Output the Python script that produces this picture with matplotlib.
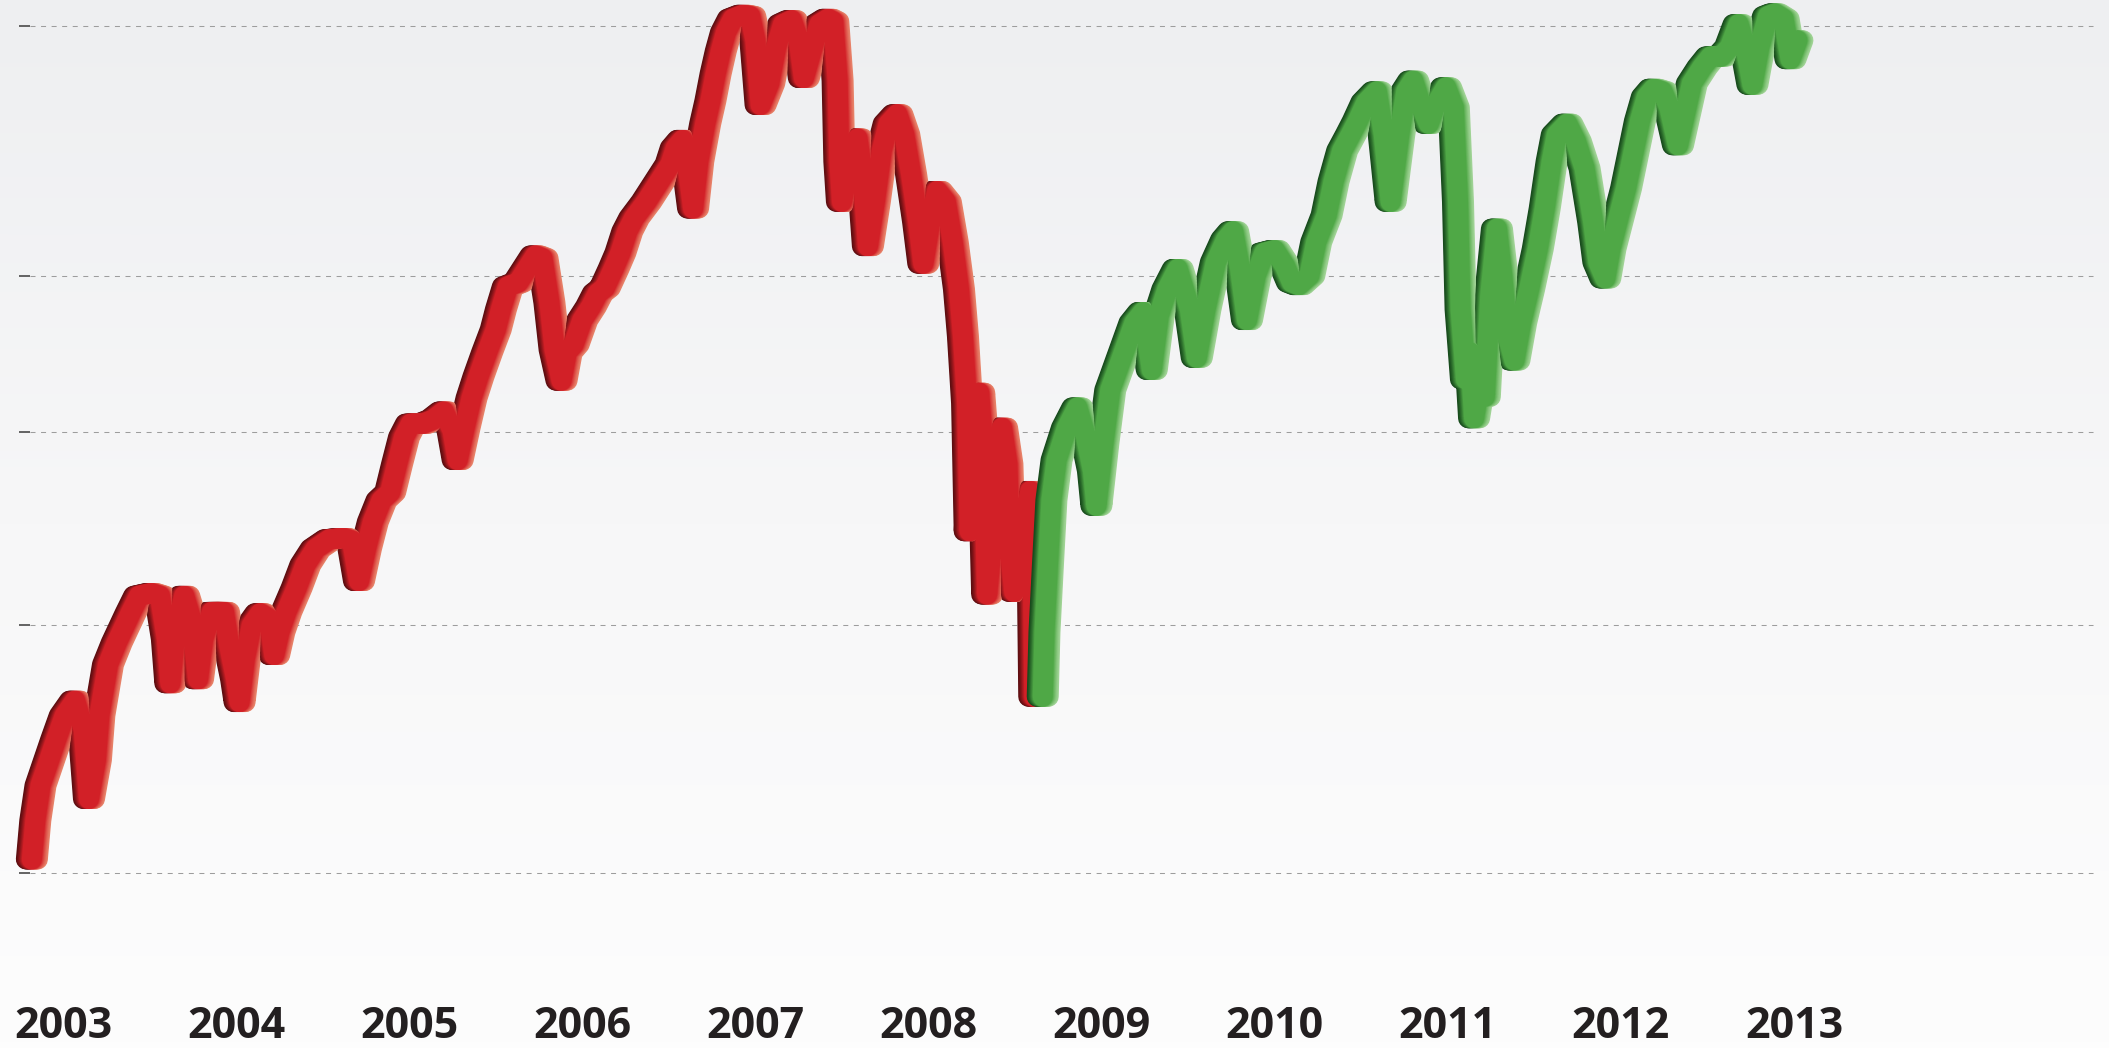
import numpy as np
import matplotlib
matplotlib.use("Agg")
import matplotlib.pyplot as plt
from matplotlib.transforms import offset_copy
from matplotlib.colors import LinearSegmentedColormap, to_rgb

plt.rcParams["lines.scale_dashes"] = False

# ---------------- data ----------------
year_labels = [2003, 2004, 2005, 2006, 2007, 2008, 2009, 2010, 2011, 2012, 2013]
grid_levels = [781, 595, 479, 335, 151]

# pre-crisis and falling part (red)
red_year = [2003.32, 2003.34, 2003.37, 2003.42, 2003.46, 2003.51, 2003.57, 2003.62, 2003.65, 2003.69,
            2003.71, 2003.76, 2003.81, 2003.89, 2003.94, 2004.01, 2004.06, 2004.10, 2004.12, 2004.15,
            2004.20, 2004.24, 2004.28, 2004.31, 2004.36, 2004.43, 2004.46, 2004.50, 2004.52, 2004.55,
            2004.59, 2004.64, 2004.69, 2004.72, 2004.75, 2004.79, 2004.85, 2004.90, 2004.96, 2005.04,
            2005.12, 2005.17, 2005.21, 2005.25, 2005.29, 2005.34, 2005.39, 2005.43, 2005.47, 2005.51,
            2005.58, 2005.64, 2005.70, 2005.75, 2005.78, 2005.82, 2005.86, 2005.90, 2005.95, 2006.00,
            2006.03, 2006.07, 2006.13, 2006.18, 2006.23, 2006.27, 2006.31, 2006.34, 2006.38, 2006.41,
            2006.45, 2006.50, 2006.55, 2006.59, 2006.63, 2006.68, 2006.72, 2006.76, 2006.80, 2006.87,
            2006.92, 2006.96, 2007.01, 2007.04, 2007.08, 2007.11, 2007.14, 2007.17, 2007.21, 2007.24,
            2007.27, 2007.30, 2007.33, 2007.37, 2007.43, 2007.47, 2007.50, 2007.53, 2007.58, 2007.62,
            2007.66, 2007.71, 2007.75, 2007.78, 2007.82, 2007.87, 2007.92, 2007.95, 2007.975, 2007.985,
            2008.00, 2008.04, 2008.09, 2008.12, 2008.15, 2008.19, 2008.23, 2008.27, 2008.32, 2008.36,
            2008.40, 2008.44, 2008.47, 2008.51, 2008.55, 2008.60, 2008.64, 2008.676, 2008.699, 2008.723,
            2008.738, 2008.761, 2008.793, 2008.816, 2008.839, 2008.870, 2008.894, 2008.925, 2008.956, 2008.971,
            2008.995, 2009.018, 2009.041, 2009.064, 2009.088, 2009.103, 2009.111]
red_level = [161, 190, 216, 235, 250, 268, 279, 257, 206, 235,
             268, 306, 322, 344, 357, 359, 357, 325, 292, 330,
             357, 340, 295, 325, 345, 345, 320, 295, 278, 310,
             335, 344, 340, 313, 330, 345, 363, 380, 392, 399,
             400, 398, 368, 392, 412, 428, 434, 455, 475, 485,
             485, 488, 494, 480, 458, 482, 504, 520, 538, 555,
             570, 587, 590, 600, 610, 608, 575, 540, 517, 538,
             544, 562, 572, 582, 586, 600, 612, 628, 638, 650,
             660, 668, 678, 690, 696, 675, 645, 680, 708, 725,
             745, 762, 776, 786, 789, 788, 770, 722, 738, 765,
             782, 785, 770, 742, 760, 782, 786, 784, 740, 680,
             650, 675, 697, 670, 617, 650, 688, 708, 715, 700,
             670, 635, 604, 635, 658, 650, 620, 585, 550, 500,
             405, 460, 508, 470, 358, 400, 455, 482, 455, 390,
             360, 400, 370, 420, 435, 370, 282]

# recovery part (green)
green_year = [2009.16, 2009.17, 2009.19, 2009.21, 2009.24, 2009.30, 2009.36, 2009.41, 2009.45, 2009.47,
              2009.51, 2009.55, 2009.62, 2009.69, 2009.74, 2009.79, 2009.83, 2009.88, 2009.94, 2010.01,
              2010.05, 2010.10, 2010.16, 2010.22, 2010.26, 2010.30, 2010.34, 2010.39, 2010.44, 2010.50,
              2010.56, 2010.60, 2010.64, 2010.70, 2010.74, 2010.80, 2010.84, 2010.89, 2010.94, 2010.98,
              2011.03, 2011.09, 2011.13, 2011.17, 2011.22, 2011.26, 2011.30, 2011.35, 2011.39, 2011.43,
              2011.49, 2011.535, 2011.559, 2011.574, 2011.605, 2011.629, 2011.652, 2011.691, 2011.714, 2011.745,
              2011.784, 2011.815, 2011.846, 2011.885, 2011.924, 2011.97, 2012.02, 2012.06, 2012.10, 2012.13,
              2012.19, 2012.24, 2012.29, 2012.34, 2012.37, 2012.41, 2012.44, 2012.48, 2012.53, 2012.57,
              2012.61, 2012.65, 2012.69, 2012.74, 2012.78, 2012.83, 2012.87, 2012.91, 2012.97, 2013.02,
              2013.08, 2013.13, 2013.18, 2013.22, 2013.26, 2013.30, 2013.35, 2013.39, 2013.44, 2013.48,
              2013.52]
green_level = [282, 330, 380, 428, 458, 482, 497, 475, 450, 424,
               470, 510, 535, 560, 568, 525, 565, 585, 600, 570,
               534, 570, 605, 622, 628, 600, 562, 595, 612, 614,
               602, 590, 588, 595, 620, 640, 665, 688, 700, 710,
               724, 732, 700, 650, 700, 732, 740, 720, 708, 722,
               735, 720, 650, 570, 518, 538, 489, 520, 505, 580,
               630, 595, 550, 532, 560, 585, 615, 645, 680, 700,
               708, 695, 675, 635, 605, 593, 615, 635, 660, 685,
               710, 728, 734, 732, 720, 692, 715, 738, 750, 758,
               758, 765, 782, 765, 737, 765, 788, 790, 786, 756,
               770]

# ---------------- styles ----------------
red_dark, red_mid, red_light = "#5c0e11", "#d22027", "#e8846b"
green_dark, green_mid, green_light = "#174a1c", "#4fa846", "#a2d497"

fig = plt.figure(figsize=(21.09, 10.48), dpi=100)
ax = fig.add_axes([0, 0, 1, 1])
x0, x1 = 2003.136, 2015.32
y0, y1 = 20.8, 800
ax.set_xlim(x0, x1)
ax.set_ylim(y0, y1)
ax.axis("off")

# background gradient
grad = np.linspace(0, 1, 256).reshape(-1, 1)
bg = LinearSegmentedColormap.from_list("bg", ["#fdfdfd", "#f7f7f8", "#eeeff1"])
ax.imshow(grad, extent=[x0, x1, y0, y1], aspect="auto", cmap=bg, origin="lower",
          zorder=0, interpolation="bicubic")

# dashed grid lines with short solid ticks at left
ax.hlines(grid_levels, 2003.309, 2015.227, colors="#9d9d9d", linewidth=0.75,
          linestyles=(0, (3.6, 4.0)), zorder=1)
ax.hlines(grid_levels, 2003.246, 2003.309, colors="#4a4a4a", linewidth=1.2, zorder=1)

W_px = 20.0   # stroke width
S_px = 6.0    # horizontal spread of the shading
N = 8
lw_pt = W_px * 72 / 100


def mix(c1, c2, t):
    a, b = np.array(to_rgb(c1)), np.array(to_rgb(c2))
    return tuple(a + (b - a) * t)


def ribbon(x, y, dark, mid, light, z):
    for i in range(N):
        t = i / N          # 0 = outermost
        dx = S_px * (1 - t)
        for sgn, edge in ((-1, dark), (1, light)):
            tr = offset_copy(ax.transData, fig=fig, x=sgn * dx, y=0, units="dots")
            ax.plot(x, y, color=mix(edge, mid, t ** 1.3), lw=lw_pt, transform=tr,
                    solid_capstyle="round", solid_joinstyle="round", zorder=z)
    ax.plot(x, y, color=mid, lw=lw_pt, solid_capstyle="round",
            solid_joinstyle="round", zorder=z)


ribbon(red_year, red_level, red_dark, red_mid, red_light, 3)
ribbon(green_year, green_level, green_dark, green_mid, green_light, 4)

for yr in year_labels:
    ax.text(yr + 0.5, 28, str(yr), ha="center", va="baseline", fontsize=31,
            fontweight="bold", family=["Open Sans", "DejaVu Sans"], color="#231f20", zorder=5)

fig.savefig("out.png", dpi=100)
